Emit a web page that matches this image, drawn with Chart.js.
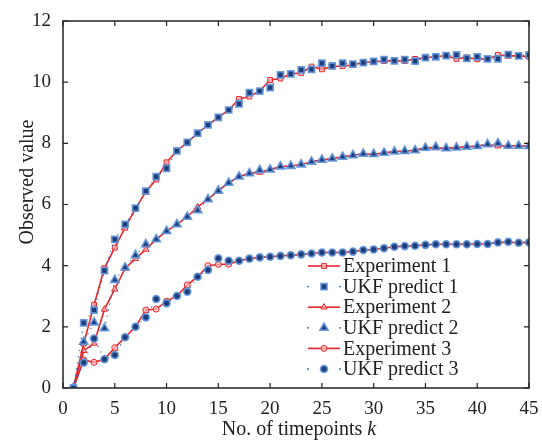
<!DOCTYPE html>
<html><head><meta charset="utf-8">
<script src="https://cdn.jsdelivr.net/npm/chart.js@4.4.0/dist/chart.umd.min.js"></script>
<style>html,body{margin:0;padding:0;background:#fff;}#wrap{width:542px;height:441px;position:relative;}</style>
</head><body><div id="wrap"><canvas id="c" width="542" height="441"></canvas></div>
<script>
const timepoints = Array.from({length:45},(_,i)=>i+1);
const exp1 = [0,1.45,2.72,3.92,4.59,5.24,5.86,6.42,6.82,7.38,7.75,8.03,8.33,8.6,8.85,9.09,9.45,9.53,9.71,10.07,10.12,10.27,10.3,10.51,10.42,10.51,10.53,10.56,10.64,10.67,10.69,10.70,10.69,10.76,10.80,10.83,10.87,10.76,10.81,10.75,10.76,10.89,10.86,10.86,10.83];
const ukf1 = [0,2.13,2.55,3.84,4.86,5.35,5.88,6.44,6.91,7.18,7.75,8.03,8.33,8.6,8.85,9.09,9.29,9.66,9.71,9.82,10.24,10.27,10.4,10.42,10.62,10.53,10.62,10.59,10.64,10.68,10.74,10.70,10.74,10.69,10.80,10.83,10.87,10.89,10.78,10.83,10.76,10.76,10.9,10.86,10.89];
const exp2 = [0,1.22,1.46,2.57,3.23,3.91,4.23,4.53,4.86,5.13,5.35,5.60,5.92,6.17,6.45,6.71,6.91,7.02,7.05,7.14,7.24,7.26,7.31,7.40,7.46,7.50,7.56,7.61,7.66,7.64,7.69,7.73,7.75,7.77,7.86,7.85,7.84,7.86,7.89,7.91,7.96,7.91,7.92,7.92,7.91];
const ukf2 = [0,1.51,2.14,1.95,3.53,3.94,4.34,4.70,4.86,5.13,5.35,5.60,5.81,6.17,6.45,6.71,6.91,7.02,7.12,7.14,7.24,7.26,7.31,7.40,7.46,7.50,7.56,7.61,7.66,7.65,7.69,7.73,7.75,7.77,7.85,7.88,7.84,7.86,7.89,7.91,7.97,8.0,7.92,7.92,7.91];
const exp3 = [0,0.92,0.84,0.94,1.32,1.66,2.0,2.55,2.58,2.84,3.01,3.37,3.64,4.0,4.04,4.05,4.16,4.23,4.27,4.29,4.32,4.34,4.36,4.40,4.43,4.43,4.43,4.46,4.51,4.53,4.57,4.62,4.64,4.65,4.68,4.70,4.70,4.70,4.70,4.71,4.71,4.76,4.76,4.75,4.76];
const ukf3 = [0,0.83,1.62,0.94,1.08,1.66,2.0,2.31,2.91,2.77,3.01,3.15,3.64,3.86,4.24,4.16,4.16,4.23,4.27,4.29,4.32,4.34,4.37,4.40,4.43,4.43,4.43,4.46,4.51,4.53,4.57,4.62,4.64,4.65,4.68,4.70,4.70,4.70,4.70,4.71,4.71,4.76,4.78,4.75,4.76];
const seriesNames = ['Experiment 1','UKF predict 1','Experiment 2','UKF predict 2','Experiment 3','UKF predict 3'];
const xTicks = [0,5,10,15,20,25,30,35,40,45];
const yTicks = [0,2,4,6,8,10,12];
const xTitle = 'No. of timepoints ';
const xTitleVar = 'k';
const yTitle = 'Observed value';

const RED = '#e8262b', RED_FILL = 'rgba(255,190,190,0.7)';
const BLUE = '#1b3d78', BLUE_EDGE = 'rgba(95,145,215,0.9)', BLUE_LINE = '#2a5db0';
const FONT = "'Liberation Serif', 'DejaVu Serif', serif";
const TXT = '#222';

function toXY(arr){ return arr.map((v,i)=>({x:timepoints[i], y:v})); }
const styles = ['rect','rect','triangle','triangle','circle','circle'];
const radii = [3.4,4.2,3.6,4.6,3.0,3.4];
const allData = [exp1,ukf1,exp2,ukf2,exp3,ukf3];

const datasets = allData.map((arr,i)=>{
  const isExp = i%2===0;
  return {
    label: seriesNames[i],
    data: toXY(arr),
    order: isExp ? 2 : 1,
    borderColor: isExp ? RED : BLUE_LINE,
    borderWidth: isExp ? 1.6 : 1.1,
    borderDash: isExp ? [] : [1.2,5],
    tension: 0,
    fill: false,
    pointStyle: styles[i],
    pointRadius: radii[i],
    pointBorderWidth: isExp ? 1 : 1.8,
    pointBorderColor: isExp ? RED : BLUE_EDGE,
    pointBackgroundColor: isExp ? RED_FILL : BLUE,
  };
});

function marker(ctx, style, x, y, r, fill, stroke, bw){
  ctx.save();
  ctx.beginPath();
  if(style==='rect'){ const s=Math.SQRT1_2*r; ctx.rect(x-s,y-s,2*s,2*s); }
  else if(style==='triangle'){
    ctx.moveTo(x, y - r);
    ctx.lineTo(x + Math.sin(2*Math.PI/3)*r, y - Math.cos(2*Math.PI/3)*r);
    ctx.lineTo(x + Math.sin(4*Math.PI/3)*r, y - Math.cos(4*Math.PI/3)*r);
    ctx.closePath();
  } else { ctx.arc(x,y,r,0,Math.PI*2); }
  ctx.fillStyle=fill; ctx.fill();
  ctx.lineWidth=bw; ctx.strokeStyle=stroke; ctx.stroke();
  ctx.restore();
}

const framePlugin = {
  id:'frame',
  afterDraw(chart){
    const ctx = chart.ctx, ca = chart.chartArea;
    const xs = chart.scales.x, ys = chart.scales.y;
    ctx.save();
    ctx.strokeStyle = '#222'; ctx.lineWidth = 1.5;
    ctx.strokeRect(ca.left, ca.top, ca.right-ca.left, ca.bottom-ca.top);
    ctx.lineWidth = 1.2;
    ctx.beginPath();
    xTicks.forEach(t=>{ const px = xs.getPixelForValue(t);
      ctx.moveTo(px, ca.bottom); ctx.lineTo(px, ca.bottom-5);
      ctx.moveTo(px, ca.top); ctx.lineTo(px, ca.top+5); });
    yTicks.forEach(t=>{ const py = ys.getPixelForValue(t);
      ctx.moveTo(ca.left, py); ctx.lineTo(ca.left+5, py);
      ctx.moveTo(ca.right, py); ctx.lineTo(ca.right-5, py); });
    ctx.stroke();
    // axis titles
    ctx.fillStyle = TXT;
    ctx.font = "20px " + FONT;
    ctx.textBaseline = 'alphabetic';
    const w1 = ctx.measureText(xTitle).width;
    ctx.font = "italic 20px " + FONT;
    const w2 = ctx.measureText(xTitleVar).width;
    const cx = (ca.left+ca.right)/2 + 3;
    let sx = cx - (w1+w2)/2;
    ctx.font = "20px " + FONT; ctx.textAlign='left';
    ctx.fillText(xTitle, sx, 435);
    ctx.font = "italic 20px " + FONT;
    ctx.fillText(xTitleVar, sx+w1, 435);
    ctx.save();
    ctx.translate(33, 182); ctx.rotate(-Math.PI/2);
    ctx.font = "20px " + FONT; ctx.textAlign='center';
    ctx.fillText(yTitle, 0, 0);
    ctx.restore();
    // legend
    const lx0 = 308, lx1 = 340, lm = 324, tx = 343;
    seriesNames.forEach((name,i)=>{
      const y = 266 + i*20.6;
      const isExp = i%2===0;
      if(isExp){
        ctx.beginPath(); ctx.strokeStyle=RED; ctx.lineWidth=1.6;
        ctx.moveTo(lx0,y); ctx.lineTo(lx1,y); ctx.stroke();
        marker(ctx, styles[i], lm, y, radii[i], RED_FILL, RED, 1);
      } else {
        ctx.fillStyle = BLUE_LINE;
        [lx0, lx1].forEach(px=>{ ctx.beginPath(); ctx.arc(px,y,0.9,0,Math.PI*2); ctx.fill(); });
        marker(ctx, styles[i], lm, y, radii[i], BLUE, BLUE_EDGE, 1.8);
      }
      ctx.fillStyle = TXT; ctx.font = "20px " + FONT;
      ctx.textAlign='left'; ctx.textBaseline='middle';
      ctx.fillText(name, tx, y+1);
    });
    ctx.restore();
  }
};

new Chart(document.getElementById('c'), {
  type:'line',
  data:{ datasets },
  options:{
    responsive:false, animation:false, devicePixelRatio:1,
    layout:{ padding:{ top:21, right:13, left:0, bottom:0 } },
    plugins:{ legend:{display:false}, tooltip:{enabled:false} },
    scales:{
      x:{ type:'linear', min:0, max:45,
        afterBuildTicks: s=>{ s.ticks = xTicks.map(v=>({value:v})); },
        afterFit: s=>{ s.height = 53; },
        grid:{display:false}, border:{display:false},
        ticks:{ color:TXT, padding:2, maxRotation:0, autoSkip:false, font:{family:FONT, size:19} } },
      y:{ type:'linear', min:0, max:12,
        afterBuildTicks: s=>{ s.ticks = yTicks.map(v=>({value:v})); },
        afterFit: s=>{ s.width = 63; },
        grid:{display:false}, border:{display:false},
        ticks:{ color:TXT, padding:4, font:{family:FONT, size:19} } }
    }
  },
  plugins:[framePlugin]
});
</script></body></html>
